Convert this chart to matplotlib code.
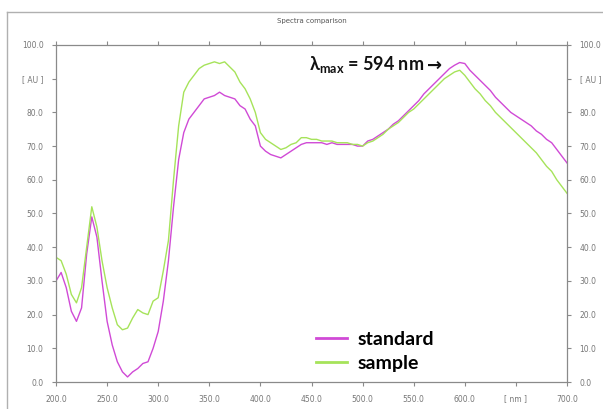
import matplotlib.pyplot as plt
from matplotlib.lines import Line2D
import numpy as np

# wavelength grid [nm], every 5 nm
wavelength = list(range(200, 705, 5))

standard = [30, 32.5, 28, 21, 18, 22, 38, 49, 43, 30,
            18, 11, 6, 3, 1.5, 3, 4, 5.5, 6, 10,
            15, 24, 36, 52, 66, 74, 78, 80, 82, 84,
            84.5, 85, 86, 85, 84.5, 84, 82, 81, 78, 76,
            70, 68.5, 67.5, 67, 66.5, 67.5, 68.5, 69.5, 70.5, 71,
            71, 71, 71, 70.5, 71, 70.5, 70.5, 70.5, 70.5, 70,
            70, 71.5, 72, 73, 74, 75, 76.5, 77.5, 79, 80.5,
            82, 83.5, 85.5, 87, 88.5, 90, 91.5, 93, 94, 94.8,
            94.5, 92.5, 91, 89.5, 88, 86.5, 84.5, 83, 81.5, 80,
            79, 78, 77, 76, 74.5, 73.5, 72, 71, 69, 67,
            65]

sample = [37, 36, 32, 26, 23.5, 28, 40, 52, 46, 36,
          28, 22, 17, 15.5, 16, 19, 21.5, 20.5, 20, 24,
          25, 33, 42, 60, 76, 86, 89, 91, 93, 94,
          94.5, 95, 94.5, 95, 93.5, 92, 89, 87, 84, 80,
          74, 72, 71, 70, 69, 69.5, 70.5, 71, 72.5, 72.5,
          72, 72, 71.5, 71.5, 71.5, 71, 71, 71, 70.5, 70.5,
          70, 71, 71.5, 72.5, 73.5, 75, 76, 77, 78.5, 80,
          81, 82.5, 84, 85.5, 87, 88.5, 90, 91, 92, 92.5,
          91, 89, 87, 85.5, 83.5, 82, 80, 78.5, 77, 75.5,
          74, 72.5, 71, 69.5, 68, 66, 64, 62.5, 60, 58,
          56]

x_ticks = [200, 250, 300, 350, 400, 450, 500, 550, 600, 650, 700]
x_labels = ['200.0', '250.0', '300.0', '350.0', '400.0', '450.0', '500.0',
            '550.0', '600.0', '[ nm ]', '700.0']
y_ticks = [0, 10, 20, 30, 40, 50, 60, 70, 80, 90, 100]
y_labels = ['0.0', '10.0', '20.0', '30.0', '40.0', '50.0', '60.0', '70.0',
            '80.0', '[ AU ]', '100.0']

col_std = '#d04ad6'
col_smp = '#a6e35a'
grey = '#8a8a8a'

plt.rcParams['mathtext.fontset'] = 'custom'
plt.rcParams['mathtext.rm'] = 'Lato:bold'

fig = plt.figure(figsize=(6.03, 4.09), dpi=100)
ax = fig.add_axes([0.0929, 0.066, 0.8474, 0.824])

ax.plot(wavelength, standard, color=col_std, lw=1.0)
ax.plot(wavelength, sample, color=col_smp, lw=1.0)

ax.set_xlim(200, 700)
ax.set_ylim(0, 100)
ax.set_xticks(x_ticks)
ax.set_xticklabels(x_labels)
ax.set_yticks(y_ticks)
ax.set_yticklabels(y_labels)
ax.tick_params(direction='out', length=3, width=0.8, color=grey,
               labelsize=5.5, labelcolor='#777777', top=True, right=True,
               labelright=True, pad=6)
for s in ax.spines.values():
    s.set_color(grey)
    s.set_linewidth(0.9)

ax.set_title('Spectra comparison', fontsize=5, color='#555555', pad=16)

# annotation for the maximum
ax.text(560, 92.6, r'$\mathregular{\lambda_{max}}$ = 594 nm', ha='right',
        va='baseline', fontsize=13, family='Lato', weight='bold',
        color='#111111')
ax.text(563, 93.8, '→', ha='left', va='center', fontsize=13,
        family='DejaVu Sans', weight='bold', color='#111111')

handles = [Line2D([], [], color=col_std, lw=2),
           Line2D([], [], color=col_smp, lw=2)]
ax.legend(handles, ['standard', 'sample'], loc='lower left',
          bbox_to_anchor=(0.475, -0.022), frameon=False, handlelength=1.6,
          handletextpad=0.55, labelspacing=0.35,
          prop={'family': 'Lato', 'size': 14, 'weight': 'bold'})

# outer frame of the exported image
fig.add_artist(Line2D([7 / 603, 7 / 603], [0, 1 - 12 / 409],
                      color='#b0b0b0', lw=1, transform=fig.transFigure))
fig.add_artist(Line2D([7 / 603, 1], [1 - 12 / 409, 1 - 12 / 409],
                      color='#b0b0b0', lw=1, transform=fig.transFigure))

fig.savefig('out.png', dpi=100)
